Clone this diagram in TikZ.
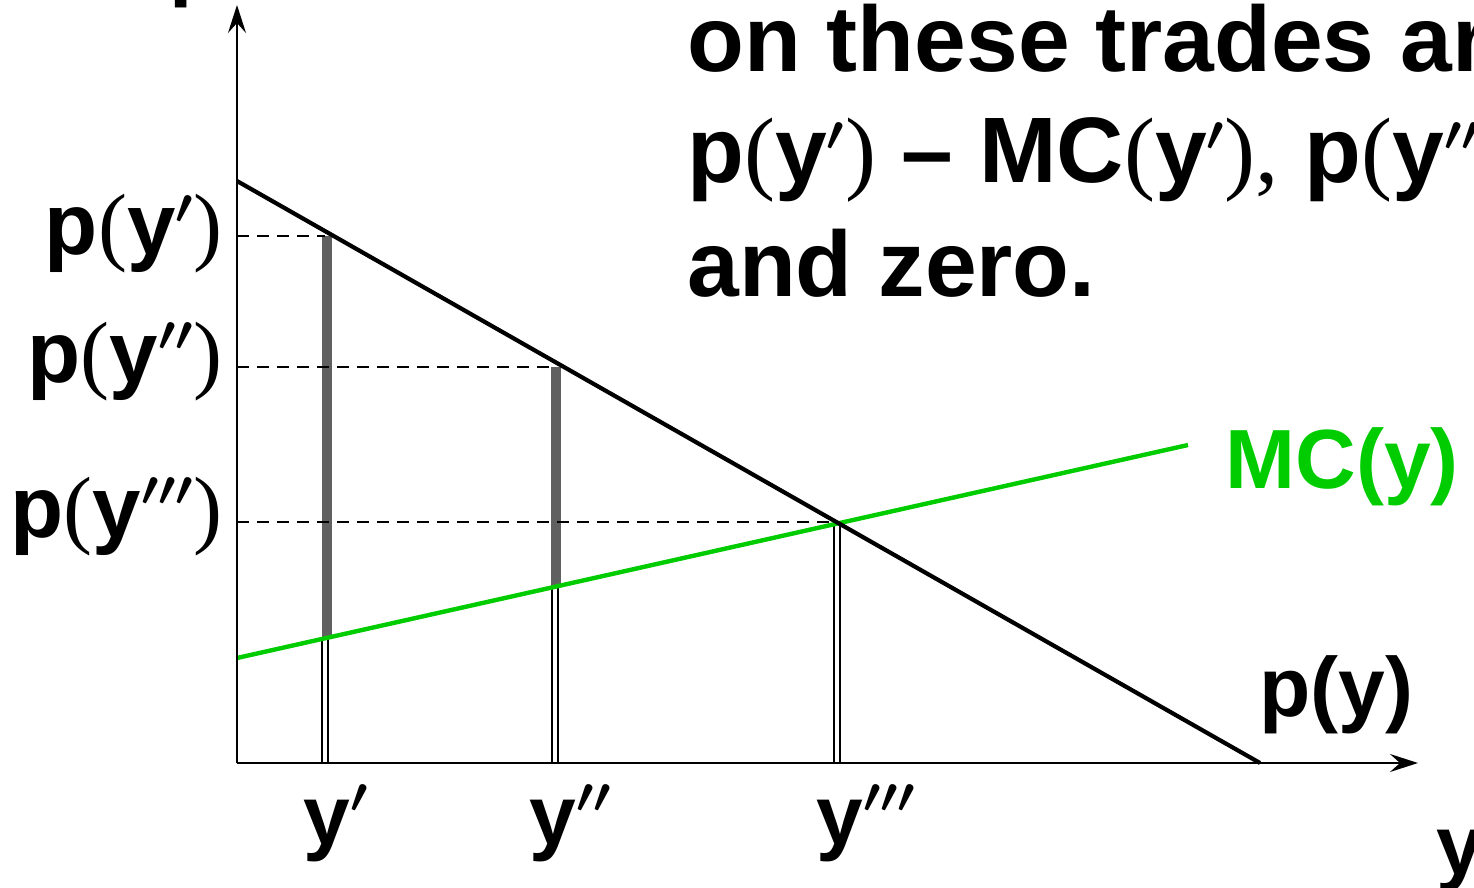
\documentclass[tikz,border=0pt]{standalone}
\usepackage{fontspec}
\setmainfont{Liberation Sans}
\newfontfamily\srf{Liberation Serif}
\usetikzlibrary{arrows.meta}
\definecolor{mcgreen}{RGB}{0,204,0}
\definecolor{bargray}{RGB}{96,96,96}
\newcommand{\lpar}{{\srf\mdseries(}}
\newcommand{\rpar}{{\srf\mdseries)}}
\newcommand{\pri}{\raisebox{0.16em}{\ensuremath{^{\prime}}}}
\newcommand{\prii}{\raisebox{0.16em}{\ensuremath{^{\prime\prime}}}}
\newcommand{\priii}{\raisebox{0.16em}{\ensuremath{^{\prime\prime\prime}}}}
\begin{document}
\begin{tikzpicture}[x=0.5pt,y=-0.5pt,
  axis/.style={line width=1pt,-{Stealth[length=14pt,width=9pt,inset=5pt]}},
  guide/.style={line width=1pt,dash pattern=on 6pt off 4pt},
  demand/.style={line width=2.1pt,black},
  mc/.style={line width=2.2pt,draw=mcgreen},
  gapbar/.style={line width=5pt,draw=bargray},
  dbl/.style={double,double distance=2pt,line width=0.9pt},
  lab/.style={font=\bfseries\boldmath\fontsize{42}{50}\selectfont,inner sep=0pt},
  plab/.style={font=\bfseries\boldmath\fontsize{43.5}{52}\selectfont,inner sep=0pt,anchor=base east},
  big/.style={font=\bfseries\boldmath\fontsize{46.5}{56}\selectfont,inner sep=0pt,anchor=base west}]
\useasboundingbox (0,0) rectangle (1474,888);
\clip (0,0) rectangle (1474,888);
% coordinates
\coordinate (O) at (237,763);
\coordinate (ytop) at (237,5);
\coordinate (xend) at (1418,763);
\coordinate (d0) at (237,181);
\coordinate (d1) at (1260,763);
\coordinate (m0) at (237,658);
\coordinate (m1) at (1188,445);
\coordinate (ya1) at (237,236);
\coordinate (yb1) at (237,367);
\coordinate (yc1) at (237,522);
\coordinate (pa) at (325,236);
\coordinate (pb) at (555,367);
\coordinate (pc) at (837,522);
\coordinate (ma) at (325,638);
\coordinate (mb) at (555,587);
\coordinate (xa) at (325,763);
\coordinate (xb) at (555,763);
\coordinate (xc) at (837,763);
\coordinate (ga0) at (326.5,236);
\coordinate (ga1) at (326.5,637);
\coordinate (gb0) at (555.5,367);
\coordinate (gb1) at (555.5,587);
% double verticals
\draw[dbl] (ma) -- (xa);
\draw[dbl] (mb) -- (xb);
\draw[dbl] (pc) -- (xc);
% gap bars
\draw[gapbar] (ga0) -- (ga1);
\draw[gapbar] (gb0) -- (gb1);
% dashed guides
\draw[guide] (ya1) -- (pa);
\draw[guide] (yb1) -- (pb);
\draw[guide] (yc1) -- (pc);
% curves
\draw[mc] (m0) -- (m1);
\draw[demand] (d0) -- (d1);
% axes
\draw[axis] (O) -- (ytop);
\draw[axis] (O) -- (xend);
% axis labels (cropped)
\node[lab,anchor=base west] (plab) at (169,-9) {p};
\node[lab,anchor=base west] (ylab) at (1436,874) {y};
% price labels
\node[plab] (py1) at (223,255) {p\lpar y\pri\rpar};
\node[plab] (py2) at (223,382) {p\lpar y\prii\rpar};
\node[plab] (py3) at (223,537) {p\lpar y\priii\rpar};
% quantity labels
\node[lab,anchor=base west] (q1) at (303,844) {y\pri};
\node[lab,anchor=base west] (q2) at (529,844) {y\prii};
\node[lab,anchor=base west] (q3) at (816,844) {y\priii};
% curve labels
\node[lab,anchor=base west,text=mcgreen] (mclab) at (1225,488) {MC(y)};
\node[lab,anchor=base west] (dlab) at (1259,716) {p(y)};
% top text
\node[big] (t1) at (687,72) {on these trades are};
\node[big] (t2) at (687,183) {p\lpar y\pri\rpar{} -- MC\lpar y\pri\rpar{\srf\mdseries,} p\lpar y\prii\rpar{} -- MC\lpar y\prii\rpar{\srf\mdseries,}};
\node[big] (t3) at (687,296) {and zero.};
\end{tikzpicture}
\end{document}
